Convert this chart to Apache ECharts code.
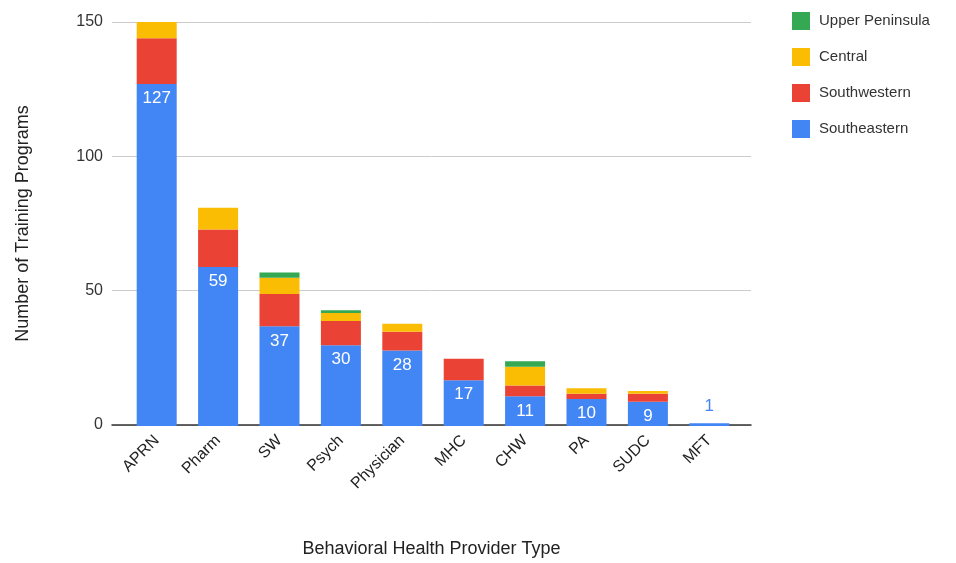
<!DOCTYPE html>
<html>
	<head>
		<meta http-equiv="Content-Type" content="text/html; charset=utf-8"/>
		<title>Behavioral Health Training Programs</title>
		<script src="https://cdn.jsdelivr.net/npm/echarts@6/dist/echarts.min.js"></script>
		<style>
			html,body{margin:0;padding:0;background:#fff;}
			#tu{width:956px;height:563px;}
		</style>
	</head>
	<body>
		<div id="tu"></div>
		<script type="text/javascript">
			var categories = ['APRN', 'Pharm', 'SW', 'Psych', 'Physician', 'MHC', 'CHW', 'PA', 'SUDC', 'MFT'];
			var southeastern = [127, 59, 37, 30, 28, 17, 11, 10, 9, 1];
			var southwestern = [17, 14, 12, 9, 7, 8, 4, 2, 3, 0];
			var central = [6, 8, 6, 3, 3, 0, 7, 2, 1, 0];
			var upperPeninsula = [0, 0, 2, 1, 0, 0, 2, 0, 0, 0];
			var yTicks = [0, 50, 100, 150];

			var font = 'Liberation Sans, Arial, sans-serif';
			var myChart = echarts.init(document.getElementById('tu'));

			// small bars get their number above in blue, like the original
			var seData = southeastern.map(function(v){
				if (v < 5) {
					return {value: v, label: {position: 'top', color: '#4285F4', distance: 8}};
				}
				return v;
			});

			var option = {
				animation: false,
				textStyle: {fontFamily: font},
				legend: {
					orient: 'vertical',
					left: 787, top: 7,
					itemWidth: 18, itemHeight: 18, itemGap: 18,
					icon: 'rect',
					textStyle: {fontSize: 15, color: '#333', padding: [0, 0, 0, 4]},
					data: ['Upper Peninsula', 'Central', 'Southwestern', 'Southeastern']
				},
				grid: [
					{left: 126, width: 614, top: 22, height: 404},
					{left: 112, width: 639, top: 22, height: 404}
				],
				xAxis: [
					{
						type: 'category', gridIndex: 0, data: categories,
						axisLine: {show: false}, axisTick: {show: false},
						axisLabel: {rotate: 45, fontSize: 16, color: '#222', margin: 12}
					},
					{
						type: 'value', gridIndex: 1, min: 0, max: 1, show: true,
						axisLine: {show: true, lineStyle: {color: '#333', width: 1.5}},
						axisTick: {show: false}, axisLabel: {show: false}, splitLine: {show: false},
						name: 'Behavioral Health Provider Type', nameLocation: 'middle', nameGap: 115,
						nameTextStyle: {fontSize: 18, color: '#222'}
					}
				],
				yAxis: [
					{
						type: 'value', gridIndex: 0, min: 0, max: 150, interval: 50,
						axisLine: {show: false}, axisTick: {show: false},
						axisLabel: {show: false}, splitLine: {show: false}
					},
					{
						type: 'value', gridIndex: 1, min: yTicks[0], max: yTicks[yTicks.length - 1], interval: 50,
						axisLine: {show: false}, axisTick: {show: false},
						axisLabel: {fontSize: 16, color: '#333', margin: 9},
						splitLine: {lineStyle: {color: '#ccc', width: 1}},
						name: 'Number of Training Programs', nameLocation: 'middle', nameGap: 80,
						nameTextStyle: {fontSize: 18, color: '#222'}
					}
				],
				series: [
					{
						name: 'Southeastern', type: 'bar', stack: 'all', barWidth: 40,
						xAxisIndex: 0, yAxisIndex: 0, z: 3,
						itemStyle: {color: '#4285F4'},
						label: {show: true, position: 'insideTop', distance: 6, color: '#fff', fontSize: 17},
						data: seData
					},
					{
						name: 'Southwestern', type: 'bar', stack: 'all', barWidth: 40,
						xAxisIndex: 0, yAxisIndex: 0, z: 3,
						itemStyle: {color: '#EA4335'}, data: southwestern
					},
					{
						name: 'Central', type: 'bar', stack: 'all', barWidth: 40,
						xAxisIndex: 0, yAxisIndex: 0, z: 3,
						itemStyle: {color: '#FBBC04'}, data: central
					},
					{
						name: 'Upper Peninsula', type: 'bar', stack: 'all', barWidth: 40,
						xAxisIndex: 0, yAxisIndex: 0, z: 3,
						itemStyle: {color: '#34A853'}, data: upperPeninsula
					}
				]
			};
			myChart.setOption(option);
		</script>
	</body>
</html>
